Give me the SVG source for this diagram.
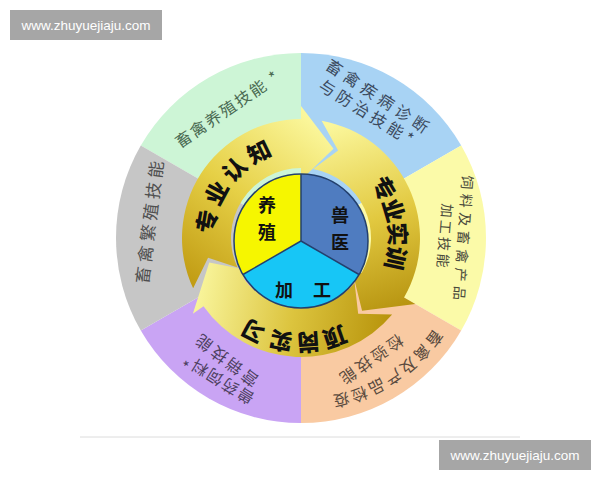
<svg xmlns="http://www.w3.org/2000/svg" width="600" height="480" viewBox="0 0 600 480">
<defs>
  <linearGradient id="gA" gradientUnits="userSpaceOnUse" x1="195" y1="290" x2="320" y2="125">
    <stop offset="0" stop-color="#c09a12"/><stop offset="0.5" stop-color="#e6d046"/><stop offset="1" stop-color="#fbf79c"/>
  </linearGradient>
  <linearGradient id="gB" gradientUnits="userSpaceOnUse" x1="330" y1="125" x2="395" y2="320">
    <stop offset="0" stop-color="#fbf79c"/><stop offset="0.5" stop-color="#e2c940"/><stop offset="1" stop-color="#b38f0c"/>
  </linearGradient>
  <linearGradient id="gC" gradientUnits="userSpaceOnUse" x1="390" y1="320" x2="200" y2="285">
    <stop offset="0" stop-color="#b8940c"/><stop offset="0.5" stop-color="#dcc43e"/><stop offset="1" stop-color="#f8f49a"/>
  </linearGradient>
</defs>
<style>
  .cjk{font-family:"Noto Sans CJK SC","Noto Sans CJK TC",sans-serif;dominant-baseline:central;text-anchor:middle}
  .lbl{font-size:16px}
  .ring{font-size:23px;font-weight:900;fill:#111}
  .pie{font-size:18px;font-weight:700;fill:#111}
  .wm{font-family:"Liberation Sans",Arial,sans-serif;font-size:13.5px;fill:#ffffff;text-anchor:middle;dominant-baseline:central}
  .pieline{stroke:#23406e;stroke-width:1.5}
</style>
<rect width="600" height="480" fill="#ffffff"/>

<!-- outer sectors -->
<g id="sector-breeding">
  <path d="M301,238 L301,53 A185,185 0 0 0 140.79,145.5 Z" fill="#cdf5d6"/>
  <text class="cjk lbl" fill="#4a6a52" font-size="15" letter-spacing="2" transform="translate(227,108) rotate(-34.4)">畜禽养殖技能 *</text>
</g>
<g id="sector-disease">
  <path d="M301,238 L461.21,145.5 A185,185 0 0 0 301,53 Z" fill="#a8d3f4"/>
  <text class="cjk lbl" fill="#3b4a5e" letter-spacing="4.6" transform="translate(380,96.5) rotate(33.5)">畜禽疾病诊断</text>
  <text class="cjk lbl" fill="#3b4a5e" letter-spacing="4" style="text-anchor:start" transform="translate(321.2,82.8) rotate(31.9)">与防治技能*</text>
</g>
<g id="sector-feed">
  <path d="M301,238 L461.21,330.5 A185,185 0 0 0 461.21,145.5 Z" fill="#fbfaa8"/>
  <text class="cjk" fill="#4a4a3c" font-size="14" letter-spacing="4.5" transform="translate(464,240) rotate(94)">饲料及畜禽产品</text>
  <text class="cjk" fill="#4a4a3c" font-size="14" letter-spacing="2.7" transform="translate(445.5,237) rotate(94.5)">加工技能</text>
</g>
<g id="sector-quarantine">
  <path d="M301,238 L301,423 A185,185 0 0 0 461.21,330.5 Z" fill="#f9caa2"/>
  <g class="cjk lbl" fill="#5a4a3e">
    <text transform="translate(435.2,339.1) rotate(127)">畜</text>
    <text transform="translate(422.9,353.7) rotate(133.5)">禽</text>
    <text transform="translate(409,366.7) rotate(140)">及</text>
    <text transform="translate(393.7,378.1) rotate(146.5)">产</text>
    <text transform="translate(377.3,387.7) rotate(153)">品</text>
    <text transform="translate(359.8,395.4) rotate(159.5)">检</text>
    <text transform="translate(341.6,401) rotate(166)">疫</text>
  </g>
  <text class="cjk lbl" fill="#5a4a3e" letter-spacing="3" transform="translate(371,361) rotate(145)">检验技能</text>
</g>
<g id="sector-vetdrug">
  <path d="M301,238 L140.79,330.5 A185,185 0 0 0 301,423 Z" fill="#c9a4f4"/>
  <text class="cjk lbl" fill="#4d4060" letter-spacing="2" style="text-anchor:start" transform="translate(251.8,401.2) rotate(212)">兽药饲料*</text>
  <text class="cjk lbl" fill="#4d4060" letter-spacing="3.3" transform="translate(225,360.5) rotate(217.3)">营销技能</text>
</g>
<g id="sector-reproduction">
  <path d="M301,238 L140.79,145.5 A185,185 0 0 0 140.79,330.5 Z" fill="#c6c6c6"/>
  <text class="cjk" fill="#4f4f4f" font-size="17" letter-spacing="4.3" transform="translate(148.5,220) rotate(-83)">畜禽繁殖技能</text>
</g>

<!-- cycle arrows -->
<g id="connectors">
  <g id="arrow-cognition">
    <path d="M193.15,288.29 A119,119 0 0 1 301,119 L301,106 L333.49,148.73 L301,180 L301,168 A70,70 0 0 0 237.56,267.58 L208.08,257.75 Z" fill="url(#gA)"/>
    <g class="cjk ring">
      <text transform="translate(205.5,221.2) rotate(-80)">专</text>
      <text transform="translate(215.4,192.5) rotate(-62)">业</text>
      <text transform="translate(233.6,168.2) rotate(-44)">认</text>
      <text transform="translate(258.5,150.8) rotate(-26)">知</text>
    </g>
  </g>
  <g id="arrow-training">
    <path d="M321.66,120.81 A119,119 0 0 1 404.05,297.5 L415.32,304 L362.07,310.77 L351.23,267 L361.62,273 A70,70 0 0 0 313.15,169.06 L338.12,150.55 Z" fill="url(#gB)"/>
    <g class="cjk ring">
      <text transform="translate(385,187.5) rotate(59)">专</text>
      <text transform="translate(394.9,209.8) rotate(73.3)">业</text>
      <text transform="translate(398.9,234.1) rotate(87.7)">实</text>
      <text transform="translate(396.9,258.4) rotate(102)">训</text>
    </g>
  </g>
  <g id="arrow-internship">
    <path d="M392.15,314.49 A119,119 0 0 1 203.52,306.26 L192.87,313.72 L209.24,262.59 L253.49,271.27 L243.66,278.15 A70,70 0 0 0 354.62,283 L358.17,313.87 Z" fill="url(#gC)"/>
    <g class="cjk ring">
      <text transform="translate(335.5,338.2) rotate(161)">顶</text>
      <text transform="translate(308.4,343.7) rotate(176)">岗</text>
      <text transform="translate(280.8,342) rotate(191)">实</text>
      <text transform="translate(252.9,332.4) rotate(207)">习</text>
    </g>
  </g>
</g>

<!-- centre pie -->
<g id="pie-breeding">
  <path d="M301,241 L301,174 A67,67 0 0 0 243,274.5 Z" fill="#f6f600"/>
  <text class="cjk pie" x="267" y="204">养</text>
  <text class="cjk pie" x="267" y="231">殖</text>
</g>
<g id="pie-veterinary">
  <path d="M301,241 L301,174 A67,67 0 0 1 359,274.5 Z" fill="#4f7cc0"/>
  <text class="cjk pie" x="340" y="214">兽</text>
  <text class="cjk pie" x="340" y="241">医</text>
</g>
<g id="pie-processing">
  <path d="M301,241 L359,274.5 A67,67 0 0 1 243,274.5 Z" fill="#17c6f6"/>
  <text class="cjk pie" x="284" y="289">加</text>
  <text class="cjk pie" x="322" y="289">工</text>
</g>
<g id="pie-outline" fill="none">
  <circle cx="301" cy="241" r="67" class="pieline"/>
  <path d="M301,174 L301,241 L243,274.5 M301,241 L359,274.5" class="pieline"/>
</g>

<!-- page decorations -->
<line x1="80" y1="437" x2="520" y2="437" stroke="#dcdcdc" stroke-width="1"/>
<g id="watermark-top">
  <rect x="10" y="10" width="152" height="30" fill="#a6a6a6"/>
  <text class="wm" x="86" y="25.5">www.zhuyuejiaju.com</text>
</g>
<g id="watermark-bottom">
  <rect x="439" y="440" width="152" height="30" fill="#a6a6a6"/>
  <text class="wm" x="515" y="455.5">www.zhuyuejiaju.com</text>
</g>
</svg>
